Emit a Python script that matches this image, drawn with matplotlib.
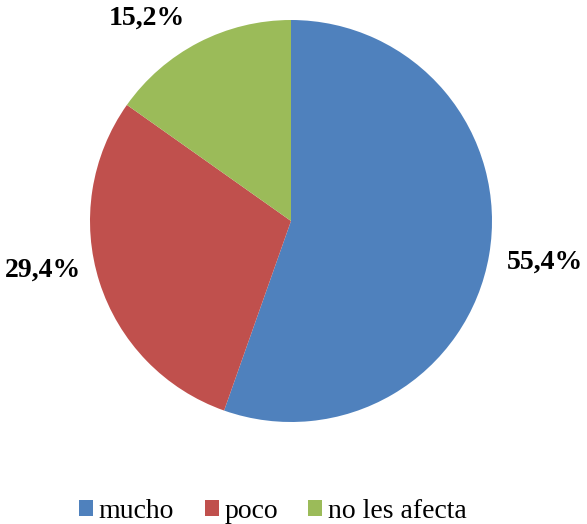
import numpy as np
import matplotlib
matplotlib.use("Agg")
import matplotlib.pyplot as plt

labels = ["mucho", "poco", "no les afecta"]
values = [55.4, 29.4, 15.2]
label_text = ["55,4%", "29,4%", "15,2%"]
colors = ["#4F81BD", "#C0504D", "#9BBB59"]

plt.rcParams["font.family"] = ["Liberation Serif", "DejaVu Serif"]

W, H = 587, 524
fig = plt.figure(figsize=(W / 100, H / 100), dpi=100)
fig.patch.set_facecolor("white")

# pie centre / radius in pixels
cx, cy, r = 291, 221, 201
ax = fig.add_axes([(cx - r) / W, 1 - (cy + r) / H, 2 * r / W, 2 * r / H])
wedges, _ = ax.pie(values, colors=colors, startangle=90, counterclock=False,
                   radius=1.0, wedgeprops=dict(linewidth=0))
ax.set_xlim(-1, 1)
ax.set_ylim(-1, 1)
ax.set_aspect("equal")
ax.axis("off")

# etiquetas fuera del círculo (pequeño ajuste de ángulo como en Excel)
nudge = [0.5, -6.5, 8.0]
dist = [1.28, 1.26, 1.24]
for w, txt, dn, d in zip(wedges, label_text, nudge, dist):
    th = np.deg2rad((w.theta1 + w.theta2) / 2 + dn)
    ax.text(d * np.cos(th), d * np.sin(th), txt, ha="center", va="center",
            fontsize=20, fontweight="bold", clip_on=False)

leg = fig.legend(wedges, labels, loc="center", bbox_to_anchor=(273 / W, 1 - 511 / H),
                 ncol=3, frameon=False, fontsize=20, handlelength=0.5,
                 handleheight=0.5, handletextpad=0.2, columnspacing=1.1,
                 borderpad=0)

fig.savefig("out.png", dpi=100)
